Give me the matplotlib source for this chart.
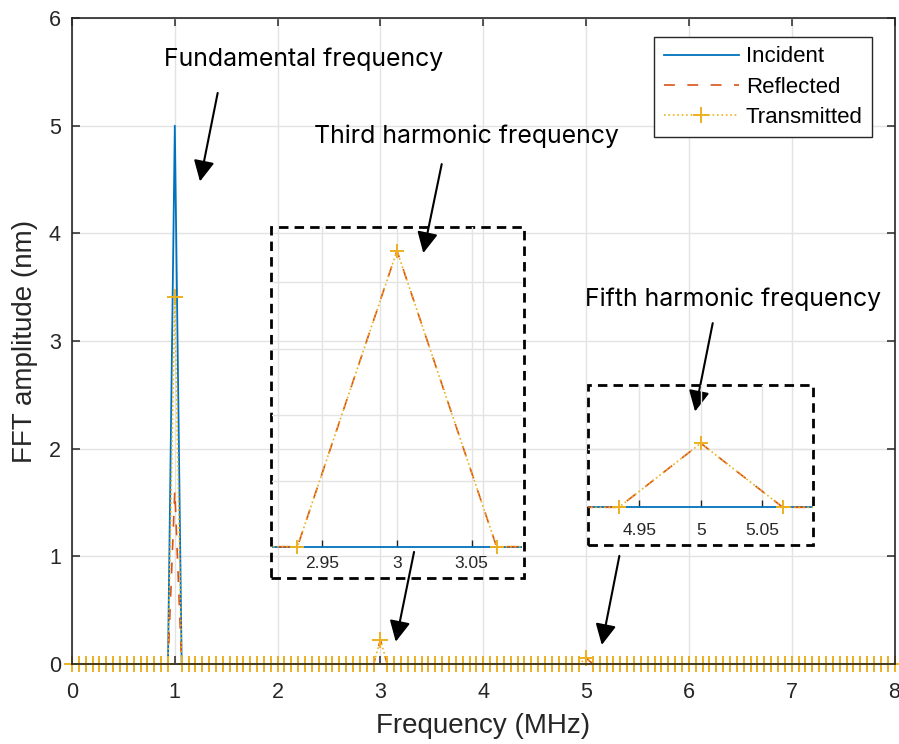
import numpy as np
import matplotlib
matplotlib.use("Agg")
import matplotlib.pyplot as plt
from matplotlib.patches import Rectangle
from matplotlib.transforms import Bbox, TransformedBbox

# frequency bins (MHz), 1/15 MHz spacing from 0 to 8
freq = np.linspace(0, 8, 121)

# spectral peaks (everything else is zero)
peak_freqs = [1.0, 3.0, 5.0]
incident_peaks = [5.0, 0.0, 0.0]
reflected_peaks = [1.61, 0.224, 0.0552]
transmitted_peaks = [3.41, 0.224, 0.0552]

labels = ["Incident", "Reflected", "Transmitted"]
colors = ["#0072BD", "#D95319", "#EDB120"]

annot_texts = ["Fundamental frequency", "Third harmonic frequency", "Fifth harmonic frequency"]


def spectrum(peaks):
    y = np.zeros_like(freq)
    for f, v in zip(peak_freqs, peaks):
        y[np.argmin(np.abs(freq - f))] = v
    return y


series = [spectrum(incident_peaks), spectrum(reflected_peaks), spectrum(transmitted_peaks)]

plt.rcParams["font.family"] = ["Liberation Sans", "DejaVu Sans"]
axis_col = "#262626"
grid_col = "#e3e3e3"


def draw_series(ax, ms):
    l1, = ax.plot(freq, series[0], color=colors[0], lw=1.3, label=labels[0])
    l2, = ax.plot(freq, series[1], color=colors[1], lw=1.2, dashes=(6.5, 7.5), label=labels[1])
    l3, = ax.plot(freq, series[2], color=colors[2], lw=1.2, ls=":", marker="+",
                  ms=ms, mew=1.4, label=labels[2])
    return [l1, l2, l3]


fig = plt.figure(figsize=(8.99, 7.44), dpi=100)
ax = fig.add_axes([72 / 899, 80 / 744, 822.5 / 899, 646 / 744])
lines = draw_series(ax, 11)
lines[2].set_clip_on(False)
ax.set_xlim(0, 8)
ax.set_ylim(0, 6)
ax.set_xticks(range(0, 9))
ax.set_yticks(range(0, 7))
ax.grid(True, color=grid_col, lw=1)
ax.set_axisbelow(True)
ax.tick_params(direction="in", length=6, width=1.1, top=True, right=True,
               labelsize=15.5, colors=axis_col)
ax.tick_params(axis="x", pad=13)
ax.tick_params(axis="y", pad=8)
for s in ax.spines.values():
    s.set_color(axis_col)
    s.set_linewidth(1.2)
ax.set_xlabel("Frequency (MHz)", fontsize=20, color=axis_col, labelpad=7)
ax.set_ylabel("FFT amplitude (nm)", fontsize=20, color=axis_col, labelpad=8)

leg = ax.legend(loc="upper right", bbox_to_anchor=(0.9726, 0.9706), fontsize=16,
                frameon=True, fancybox=False, edgecolor=axis_col, framealpha=1,
                handlelength=3.4, handletextpad=0.3, labelspacing=0.42,
                borderpad=0.42, borderaxespad=0)
leg.get_frame().set_linewidth(1.0)

# dashed boxes around the zoomed views
for (x0, y0, x1, y1) in [(1.936, 0.80, 4.397, 4.06), (5.02, 1.106, 7.21, 2.593)]:
    ax.add_patch(Rectangle((x0, y0), x1 - x0, y1 - y0, fill=False, ec="black",
                           lw=2.0, ls=(0, (3.4, 2.2)), zorder=5))

# annotation labels and arrows
ax.text(2.257, 5.558, annot_texts[0], family="Inter", fontsize=17.9, ha="center")
ax.text(3.839, 4.839, annot_texts[1], family="Inter", fontsize=17.9, ha="center")
ax.text(6.428, 3.321, annot_texts[2], family="Inter", fontsize=17.9, ha="center")

arrows = [((1.417, 5.304), (1.245, 4.482)),
          ((3.596, 4.643), (3.417, 3.817)),
          ((6.232, 3.166), (6.060, 2.345)),
          ((3.327, 1.041), (3.149, 0.207)),
          ((5.324, 1.004), (5.153, 0.177))]
for tail, head in arrows:
    ax.annotate("", xy=head, xytext=tail, zorder=6,
                arrowprops=dict(arrowstyle="-|>,head_length=0.9,head_width=0.45",
                                color="black", lw=1.5, shrinkA=0, shrinkB=0,
                                mutation_scale=14))


def inset(rect, xlim, ylim, xticks, yticks, ticklabels, pad):
    ia = fig.add_axes(rect, facecolor="none")
    ls = draw_series(ia, 10)
    # let the markers on the zero line show fully below the inset
    clip = TransformedBbox(Bbox([[0, -0.2], [1, 1]]), ia.transAxes)
    for ln in ls:
        ln.set_clip_box(clip)
    ia.set_xlim(*xlim)
    ia.set_ylim(*ylim)
    ia.set_xticks(xticks)
    ia.set_xticklabels(ticklabels)
    ia.set_yticks(yticks)
    ia.set_yticklabels([])
    ia.grid(True, color=grid_col, lw=1)
    for s in ia.spines.values():
        s.set_visible(False)
    ia.tick_params(axis="x", direction="in", length=5, width=1, labelsize=12.5,
                   colors=axis_col, pad=pad)
    ia.tick_params(axis="y", length=0)
    return ia


inset([272.3 / 899, (744 - 546.7) / 744, 250 / 899, 319.7 / 744],
      (2.9165, 3.0839), (0, 0.242), [2.95, 3, 3.05], [0.05, 0.1, 0.15, 0.2],
      ["2.95", "3", "3.05"], 7)
inset([588.3 / 899, (744 - 507.3) / 744, 225 / 899, 122.3 / 744],
      (4.9085, 5.0915), (0, 0.1054), [4.95, 5, 5.05], [0.05],
      ["4.95", "5", "5.05"], 11)

fig.savefig("out.png", dpi=100)
